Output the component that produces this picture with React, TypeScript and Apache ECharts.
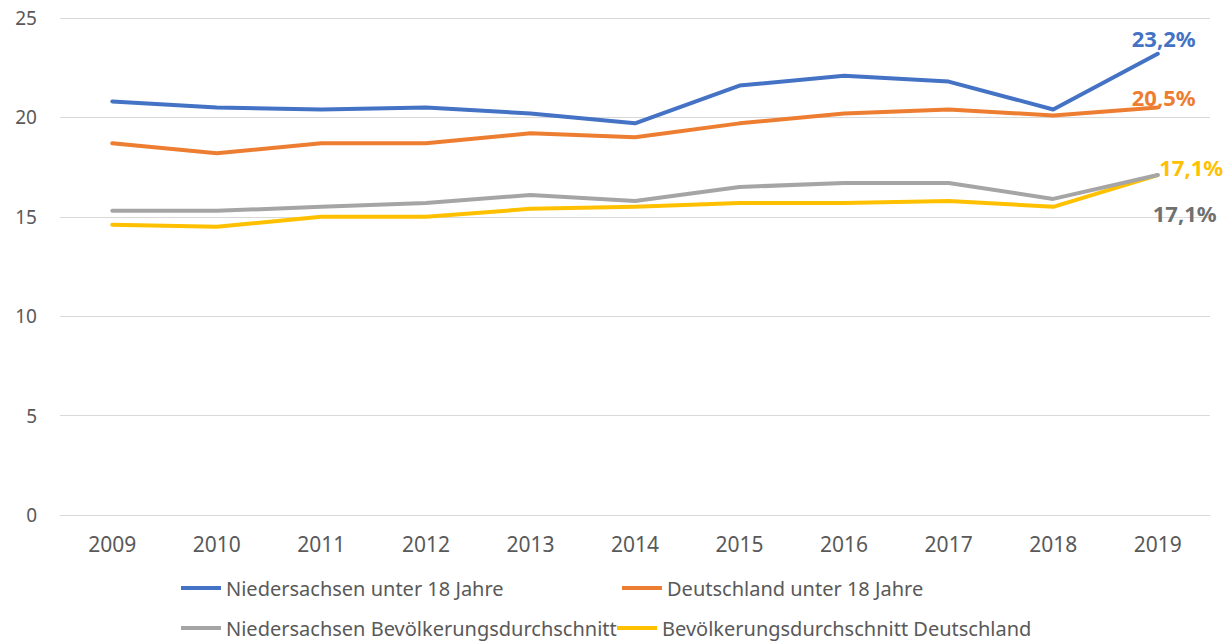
import React, { useEffect, useRef } from "react";
import * as echarts from "echarts";

const years = ["2009", "2010", "2011", "2012", "2013", "2014", "2015", "2016", "2017", "2018", "2019"];
const niedersachsenU18 = [20.8, 20.5, 20.4, 20.5, 20.2, 19.7, 21.6, 22.1, 21.8, 20.4, 23.2];
const deutschlandU18 = [18.7, 18.2, 18.7, 18.7, 19.2, 19.0, 19.7, 20.2, 20.4, 20.1, 20.5];
const niedersachsenAvg = [15.3, 15.3, 15.5, 15.7, 16.1, 15.8, 16.5, 16.7, 16.7, 15.9, 17.1];
const deutschlandAvg = [14.6, 14.5, 15.0, 15.0, 15.4, 15.5, 15.7, 15.7, 15.8, 15.5, 17.1];
const seriesNames = [
  "Niedersachsen unter 18 Jahre",
  "Deutschland unter 18 Jahre",
  "Niedersachsen Bevölkerungsdurchschnitt",
  "Bevölkerungsdurchschnitt Deutschland",
];
const colors = ["#4472C4", "#ED7D31", "#A5A5A5", "#FFC000"];
const labelColors = ["#4472C4", "#ED7D31", "#707070", "#FFC000"];

const FONT = "'Noto Sans', sans-serif";

function withEndLabel(values: number[], idx: number) {
  const cfgs: any[] = [
    { position: "top", offset: [6, 1] },
    { position: "top", offset: [6, 6] },
    { position: "bottom", offset: [27, 21] },
    { position: "right", offset: [-4, -8] },
  ];
  return values.map((v, i) => {
    if (i !== values.length - 1) return { value: v, symbol: "none" };
    return {
      value: v,
      symbol: "circle",
      symbolSize: 1,
      label: {
        show: true,
        ...cfgs[idx],
        formatter: (p: any) => p.value.toFixed(1).replace(".", ",") + "%",
        color: labelColors[idx],
        fontFamily: FONT,
        fontSize: 22,
        fontWeight: "bold",
      },
    };
  });
}

export default function App() {
  const ref = useRef<HTMLDivElement>(null);
  useEffect(() => {
    if (!ref.current) return;
    const chart = echarts.init(ref.current, undefined, { renderer: "svg" });
    const all = [niedersachsenU18, deutschlandU18, niedersachsenAvg, deutschlandAvg];
    const legendPos = [
      { left: 181, top: 578 },
      { left: 622, top: 578 },
      { left: 181, top: 618 },
      { left: 617, top: 618 },
    ];
    chart.setOption({
      animation: false,
      backgroundColor: "#ffffff",
      grid: { left: 60, right: 14, top: 18, bottom: 127, containLabel: false },
      legend: seriesNames.map((n, i) => ({
        data: [n],
        left: legendPos[i].left,
        top: legendPos[i].top,
        icon: "rect",
        itemWidth: 40,
        itemHeight: 4,
        padding: 0,
        textStyle: { color: "#595959", fontSize: 20, fontFamily: FONT },
      })),
      xAxis: {
        type: "category",
        data: years,
        boundaryGap: true,
        axisLine: { show: true, lineStyle: { color: "#d9d9d9", width: 1 } },
        axisTick: { show: false },
        axisLabel: { color: "#595959", fontSize: 21, fontFamily: FONT, margin: 18 },
      },
      yAxis: {
        type: "value",
        min: 0,
        max: 25,
        interval: 5,
        axisLine: { show: false },
        axisTick: { show: false },
        splitLine: { lineStyle: { color: "#d9d9d9", width: 1 } },
        axisLabel: { color: "#595959", fontSize: 19, fontFamily: FONT, margin: 23 },
      },
      series: all.map((vals, i) => ({
        name: seriesNames[i],
        type: "line",
        data: withEndLabel(vals, i),
        showSymbol: true,
        smooth: false,
        color: colors[i],
        itemStyle: { color: colors[i] },
        lineStyle: { color: colors[i], width: 4, cap: "round", join: "round" },
        z: 10 - i,
      })),
    });
    return () => chart.dispose();
  }, []);
  return <div ref={ref} style={{ width: 1224, height: 642, position: "absolute", left: 0, top: 0 }} />;
}
